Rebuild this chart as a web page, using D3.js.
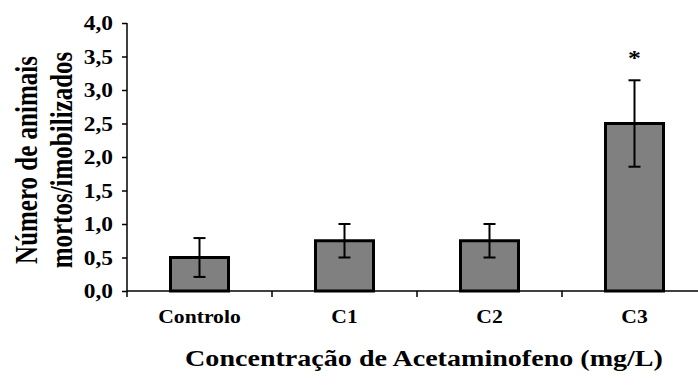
<!DOCTYPE html>
<html><head><meta charset="utf-8">
<script src="https://cdn.jsdelivr.net/npm/d3@7"></script>
<style>body{margin:0;background:#fff}svg{display:block}text{font-family:"Liberation Serif","Times New Roman",serif;font-weight:bold;fill:#000}</style>
</head><body><svg id="c" width="698" height="387"></svg>
<script>
const categories = ["Controlo", "C1", "C2", "C3"];
const values = [0.5, 0.75, 0.75, 2.5];
const errors = [0.29, 0.25, 0.25, 0.645];
const marks = ["", "", "", "*"];
const yTicks = [0, 0.5, 1, 1.5, 2, 2.5, 3, 3.5, 4];

const svg = d3.select("#c");
const x0 = 127, x1 = 707, yTop = 23, yBot = 291;
const SX = 1.17; // the original figure is slightly stretched horizontally
const x = d3.scaleBand().domain(categories).range([x0, x1]).paddingInner(0.6).paddingOuter(0.3);
const xb = d3.scaleBand().domain(categories).range([x0, x1]);
const y = d3.scaleLinear().domain([0, 4]).range([yBot, yTop]);
const fmt = d => d.toFixed(1).replace(".", ",");

// y axis
const ya = svg.append("g").attr("transform", `translate(${x0},0)`)
  .call(d3.axisLeft(y).tickValues(yTicks).tickFormat(fmt).tickSize(5).tickPadding(13));
ya.select(".domain").attr("stroke", "#000").attr("stroke-width", 1.5).attr("d", `M0,${yTop}V${yBot}`);
ya.selectAll(".tick line").attr("stroke", "#000").attr("stroke-width", 1.5);
ya.selectAll(".tick text").attr("x", 0).attr("dy", "0.34em")
  .attr("transform", `translate(-14,0) scale(${SX},1)`)
  .style("font-size", "20px").style("font-family", "'Liberation Serif',serif").style("font-weight", "bold").attr("fill", "#000");

// x axis line and ticks at band boundaries
const xa = svg.append("g");
xa.append("line").attr("x1", x0).attr("x2", x1).attr("y1", yBot).attr("y2", yBot).attr("stroke", "#000").attr("stroke-width", 1.5);
xa.selectAll("line.t").data(categories.concat(["end"])).enter().append("line").attr("class", "t")
  .attr("x1", (d, i) => i < categories.length ? xb(d) : x1)
  .attr("x2", (d, i) => i < categories.length ? xb(d) : x1)
  .attr("y1", yBot).attr("y2", yBot + 6).attr("stroke", "#000").attr("stroke-width", 1.5);
xa.selectAll("text").data(categories).enter().append("text")
  .attr("transform", d => `translate(${xb(d) + xb.bandwidth() / 2},323) scale(${SX},1)`)
  .attr("text-anchor", "middle").style("font-size", "18.5px").text(d => d);

// bars
svg.selectAll("rect.bar").data(categories).enter().append("rect").attr("class", "bar")
  .attr("x", d => x(d)).attr("width", x.bandwidth())
  .attr("y", (d, i) => y(values[i])).attr("height", (d, i) => yBot - y(values[i]))
  .attr("fill", "#808080").attr("stroke", "#000").attr("stroke-width", 3);

// error bars
const eg = svg.append("g").attr("stroke", "#000").attr("stroke-width", 2);
categories.forEach((c, i) => {
  const cx = x(c) + x.bandwidth() / 2;
  const hi = y(values[i] + errors[i]), lo = y(values[i] - errors[i]);
  eg.append("line").attr("x1", cx).attr("x2", cx).attr("y1", hi).attr("y2", lo);
  eg.append("line").attr("x1", cx - 6).attr("x2", cx + 6).attr("y1", hi).attr("y2", hi);
  eg.append("line").attr("x1", cx - 6).attr("x2", cx + 6).attr("y1", lo).attr("y2", lo);
  if (marks[i]) svg.append("text").attr("transform", `translate(${cx},${hi - 15}) scale(${SX},1)`).attr("text-anchor", "middle")
    .style("font-size", "22px").text(marks[i]);
});

// axis titles
svg.append("text").attr("transform", `translate(424,366) scale(${SX},1)`).attr("text-anchor", "middle")
  .style("font-size", "24px").text("Concentração de Acetaminofeno (mg/L)");
const yt = svg.append("text").attr("transform", `translate(37,160) rotate(-90) scale(1,1.3)`).attr("text-anchor", "middle").style("font-size", "25px");
yt.append("tspan").attr("x", 0).attr("dy", 0).text("Número de animais");
yt.append("tspan").attr("x", 0).attr("dy", 27).text("mortos/imobilizados");
</script></body></html>
